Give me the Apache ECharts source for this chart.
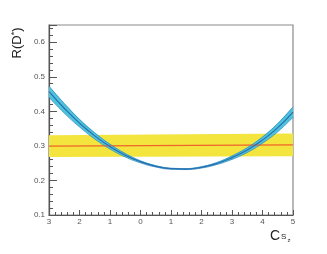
<!DOCTYPE html>
<html><head><meta charset="utf-8">
<script src="https://cdn.jsdelivr.net/npm/echarts@6/dist/echarts.min.js"></script>
<style>html,body{margin:0;padding:0;background:#fff}#c{width:327px;height:254px}</style>
</head><body><div id="c"></div>
<script>
// x positions of curve samples
const xs = [-3,-2.5,-2,-1.5,-1,-0.5,0,0.5,1,1.5,2,2.5,3,3.5,4,4.5,5];
// central prediction curve R(D*)
const curveCenter = [0.457,0.409,0.366,0.329,0.298,0.273,0.254,0.241,0.234,0.233,0.238,0.249,0.266,0.288,0.317,0.353,0.398];
// half-width of the curve uncertainty band
const curveErr = [0.016,0.014,0.011,0.009,0.007,0.005,0.003,0.002,0.0015,0.0015,0.002,0.003,0.005,0.007,0.009,0.012,0.015];
// experimental band (yellow) at x = -3 and x = 5
const bandX = [-3,5];
const bandLow = [0.268,0.270];
const bandHigh = [0.331,0.336];
const bandCenter = [0.2995,0.303];
// tick labels as printed on the x axis
const xTickLabels = ['3','2','1','0','1','2','3','4','5'];
const xMin = -3, xMax = 5;

const chart = echarts.init(document.getElementById('c'));
const pair = (xa, ya) => xa.map((x,i)=>[x, ya[i]]);
const lower = curveCenter.map((v,i)=>v-curveErr[i]);
const upper = curveCenter.map((v,i)=>v+curveErr[i]);

function bandSeries(xa, lo, hi, color){
  return {type:'custom',silent:true,data:xa.map((x,i)=>[x,lo[i],hi[i]]),
    encode:{x:0,y:[1,2]},
    renderItem:function(params, api){
      if(params.dataIndex!==0) return;
      const pts=[];
      for(let i=0;i<xa.length;i++) pts.push(api.coord([xa[i],hi[i]]));
      for(let i=xa.length-1;i>=0;i--) pts.push(api.coord([xa[i],lo[i]]));
      return {type:'polygon',shape:{points:pts},style:{fill:color}};
    }};
}

chart.setOption({
  animation:false,
  grid:{left:49,right:34,top:25,bottom:39,show:true,borderColor:'#8a8a8a',borderWidth:1.2},
  xAxis:{type:'value',min:xMin,max:xMax,interval:1,
    axisLine:{onZero:false,lineStyle:{color:'#555',width:1.2}},
    axisTick:{inside:true,length:5,lineStyle:{color:'#555'}},
    minorTick:{show:true,splitNumber:5,length:3,lineStyle:{color:'#555'}},
    splitLine:{show:false},
    axisLabel:{fontSize:8,color:'#555',margin:3,fontFamily:'Liberation Sans',
      formatter:v=>xTickLabels[Math.round(v-xMin)]}},
  yAxis:{type:'value',min:0.1,max:0.65,interval:0.1,
    axisLine:{show:true,onZero:false,lineStyle:{color:'#555',width:1.2}},
    axisTick:{show:true,inside:true,length:8,lineStyle:{color:'#555'}},
    minorTick:{show:true,splitNumber:5,length:4,lineStyle:{color:'#555'}},
    splitLine:{show:false},
    axisLabel:{fontSize:8,color:'#555',margin:4,fontFamily:'Liberation Sans',
      formatter:v=>v>0.64?'':v.toFixed(1)}},
  graphic:[
    {type:'text',x:17,y:43,rotation:Math.PI/2,
      style:{text:'{a|R(D}{s|*}{a|)}',align:'center',verticalAlign:'middle',
        rich:{a:{fontSize:13,fill:'#222',fontFamily:'Liberation Sans'},
              s:{fontSize:9,fill:'#222',verticalAlign:'top',fontFamily:'Liberation Sans'}}}},
    {type:'text',left:270,top:229,
      style:{text:'{c|C}{s|S}{z|z}',
        rich:{c:{fontSize:14,fill:'#222',fontFamily:'Liberation Sans',verticalAlign:'bottom'},
              s:{fontSize:8,fill:'#222',fontFamily:'Liberation Sans',padding:[8,0,0,1]},
              z:{fontSize:6,fill:'#222',fontFamily:'Liberation Sans',padding:[14,0,0,1]}}}}
  ],
  series:[
    bandSeries(bandX,bandLow,bandHigh,'#f3e43e'),
    {type:'line',data:pair(bandX,bandCenter),symbol:'none',lineStyle:{color:'#f0642c',width:1.3}},
    bandSeries(xs,lower,upper,'#4cc4dc'),
    {type:'line',data:pair(xs,lower),symbol:'none',smooth:true,lineStyle:{color:'#2c8ac0',width:0.8}},
    {type:'line',data:pair(xs,upper),symbol:'none',smooth:true,lineStyle:{color:'#2c8ac0',width:0.8}},
    {type:'line',data:pair(xs,curveCenter),symbol:'none',smooth:true,lineStyle:{color:'#2a6cb0',width:1.2}}
  ]
});
</script></body></html>
